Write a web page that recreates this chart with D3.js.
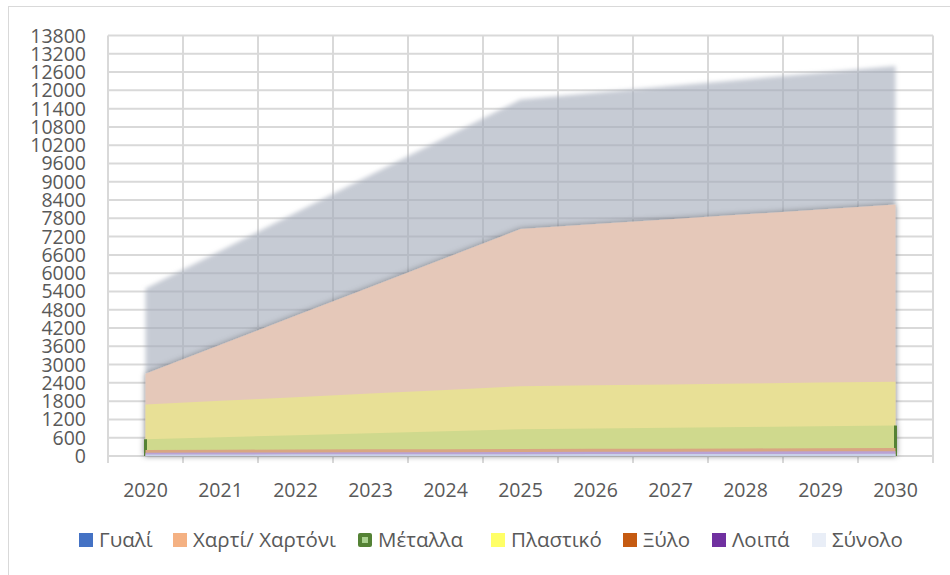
<!DOCTYPE html>
<html>
<head>
<meta charset="utf-8">
<title>Area chart</title>
<script src="https://d3js.org/d3.v7.min.js"></script>
<style>
body { margin: 0; background: #fff; }
text { font-family: "Open Sans", "Liberation Sans", sans-serif; fill: #595959; }
</style>
</head>
<body>
<div class="chart"></div>
<script>
var years = [2020, 2021, 2022, 2023, 2024, 2025, 2026, 2027, 2028, 2029, 2030];

// values
var total    = [5500, 6740, 7980, 9220, 10460, 11700, 11920, 12140, 12360, 12580, 12800];
var paper    = [2700, 3650, 4600, 5550, 6500, 7450, 7610, 7770, 7930, 8090, 8250];
var plastic  = [1690, 1810, 1930, 2050, 2170, 2290, 2320, 2350, 2380, 2410, 2440];
var metals   = [550, 616, 682, 748, 814, 880, 904, 928, 952, 976, 1000];
var wood     = [200, 206, 212, 218, 224, 230, 236, 242, 248, 254, 260];
var others   = [110, 114, 118, 122, 126, 130, 136, 142, 148, 154, 160];
var glass    = [50, 52, 54, 56, 58, 60, 62, 64, 66, 68, 70];

var yTicks = d3.range(0, 13801, 600);

// series in drawing order (back to front)
var series = [
  {name: "Σύνολο", values: total, fill: "rgb(160,168,184)", opacity: 0.6},
  {name: "Χαρτί/ Χαρτόνι", values: paper, fill: "#e5c8b9", opacity: 1},
  {name: "Πλαστικό", values: plastic, fill: "#e8e096", opacity: 1},
  {name: "Μέταλλα", values: metals, fill: "#cfd98d", opacity: 1, edge: "#548235"},
  {name: "Ξύλο", values: wood, fill: "#d8a682", opacity: 1},
  {name: "Λοιπά", values: others, fill: "#b9a2d4", opacity: 1},
  {name: "Γυαλί", values: glass, fill: "#c9d1e8", opacity: 1}
];

var legend = [
  {name: "Γυαλί", color: "#4472c4", x: 79},
  {name: "Χαρτί/ Χαρτόνι", color: "#f4b183", x: 173},
  {name: "Μέταλλα", color: "#a9d18e", border: "#548235", x: 358},
  {name: "Πλαστικό", color: "#ffff66", x: 491},
  {name: "Ξύλο", color: "#c55a11", x: 623},
  {name: "Λοιπά", color: "#7030a0", x: 712},
  {name: "Σύνολο", color: "#e9eef7", x: 812}
];

var svg = d3.select(".chart").append("svg")
    .attr("width", 950)
    .attr("height", 575);

var defs = svg.append("defs");
var sh = defs.append("filter").attr("id", "shadow")
    .attr("x", "-10%").attr("y", "-10%").attr("width", "120%").attr("height", "120%");
sh.append("feDropShadow").attr("dx", 0).attr("dy", 0)
    .attr("stdDeviation", 3).attr("flood-color", "#000").attr("flood-opacity", 0.35);
var soft = defs.append("filter").attr("id", "soft")
    .attr("x", "-10%").attr("y", "-10%").attr("width", "120%").attr("height", "120%");
soft.append("feGaussianBlur").attr("stdDeviation", 2);

// outer chart border
svg.append("rect")
    .attr("x", 8.5).attr("y", 6.5)
    .attr("width", 960).attr("height", 600)
    .attr("fill", "none").attr("stroke", "#d9d9d9");

var plotL = 108, plotR = 933, plotT = 35.5, plotB = 456;

var x = d3.scaleBand().domain(years).range([plotL, plotR]).padding(0);
var y = d3.scaleLinear().domain([0, 13800]).range([plotB, plotT]);

// gridlines
svg.append("g").selectAll("line")
  .data(yTicks).enter().append("line")
    .attr("x1", plotL).attr("x2", plotR)
    .attr("y1", function(d) { return y(d); })
    .attr("y2", function(d) { return y(d); })
    .attr("stroke", "#d9d9d9").attr("stroke-width", 2);

var bounds = years.map(function(d) { return x(d); }).concat([plotR]);
svg.append("g").selectAll("line")
  .data(bounds).enter().append("line")
    .attr("x1", function(d) { return d; }).attr("x2", function(d) { return d; })
    .attr("y1", plotT).attr("y2", plotB + 7)
    .attr("stroke", "#d9d9d9").attr("stroke-width", 2);

// areas
var cx = function(i) { return x(years[i]) + x.bandwidth() / 2; };
var area = d3.area()
    .x(function(d, i) { return cx(i); })
    .y0(y(0))
    .y1(function(d) { return y(d); });

// total sits behind, translucent with soft edges
svg.append("path")
    .datum(series[0].values)
    .attr("d", area)
    .attr("fill", series[0].fill)
    .attr("fill-opacity", series[0].opacity)
    .attr("filter", "url(#soft)");

var ag = svg.append("g").attr("filter", "url(#shadow)");
series.slice(1).forEach(function(s) {
  ag.append("path")
    .datum(s.values)
    .attr("d", area)
    .attr("fill", s.fill)
    .attr("fill-opacity", s.opacity);
  if (s.edge) {
    var n = s.values.length - 1;
    ag.append("line")
      .attr("x1", cx(0)).attr("x2", cx(0))
      .attr("y1", y(0)).attr("y2", y(s.values[0]))
      .attr("stroke", s.edge).attr("stroke-width", 3);
    ag.append("line")
      .attr("x1", cx(n)).attr("x2", cx(n))
      .attr("y1", y(0)).attr("y2", y(s.values[n]))
      .attr("stroke", s.edge).attr("stroke-width", 3);
  }
});

// y tick labels
svg.append("g").selectAll("text")
  .data(yTicks).enter().append("text")
    .attr("x", 86)
    .attr("y", function(d) { return y(d); })
    .attr("dy", "0.36em")
    .attr("text-anchor", "end")
    .style("font-size", "19.5px")
    .text(function(d) { return d; });

// x labels
svg.append("g").selectAll("text")
  .data(years).enter().append("text")
    .attr("x", function(d) { return x(d) + x.bandwidth() / 2; })
    .attr("y", 497)
    .attr("text-anchor", "middle")
    .style("font-size", "19.5px")
    .text(function(d) { return d; });

// legend
var lg = svg.append("g").selectAll("g")
  .data(legend).enter().append("g")
    .attr("transform", function(d) { return "translate(" + d.x + ",533)"; });
lg.append("rect")
    .attr("width", 14).attr("height", 14)
    .attr("rx", function(d) { return d.border ? 2 : 0; })
    .attr("fill", function(d) { return d.border || d.color; });
lg.filter(function(d) { return d.border; }).append("rect")
    .attr("x", 4).attr("y", 4).attr("width", 6).attr("height", 6)
    .attr("fill", function(d) { return d.color; });
lg.append("text")
    .attr("x", 20).attr("y", 7)
    .attr("dy", "0.36em")
    .style("font-size", "20.5px")
    .text(function(d) { return d.name; });
</script>
</body>
</html>
